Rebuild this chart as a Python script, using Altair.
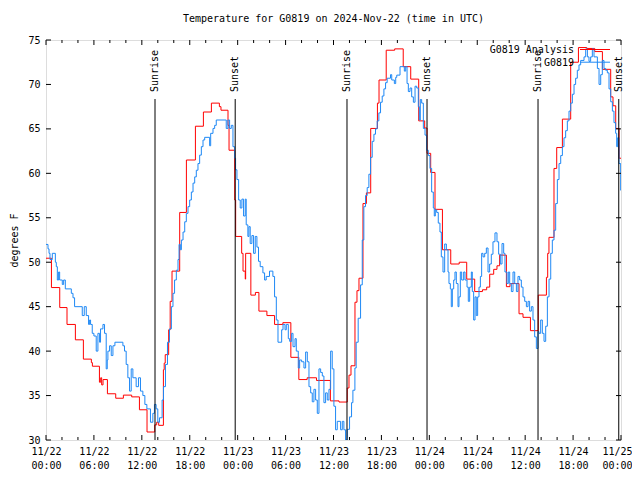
import json
import altair as alt
import pandas as pd

FONT = "DejaVu Sans Mono"

title_text = "Temperature for G0819 on 2024-Nov-22 (time in UTC)"
y_title = "degrees F"
series_names = ["G0819 Analysis", "G0819"]
series_colors = ["#ff0000", "#1e88f5"]

# Analysis (red) - step breakpoints: hours since 11/22 00:00 UTC, deg F
red_hours = [0, 0.68, 1.72, 2.63, 3.68, 4.68, 5.68, 5.81, 6.69, 6.85, 6.97, 7.14, 7.69, 8.73,
             9.69, 10.73, 11.7, 12.65, 13.61, 13.86, 14.11, 14.7, 14.8, 14.93, 15.36, 15.55,
             15.78, 16.74, 17.58, 18.71, 19.71, 20.71, 21.71, 21.91, 22.79, 22.92, 23.63, 23.75,
             24.5, 24.67, 24.95, 25.0, 25.65, 26.22, 26.66, 27.66, 28.62, 29.66, 30.66, 31.66,
             32.7, 33.87, 35.61, 36.69, 37.72, 37.94, 38.19, 38.69, 38.94, 39.19, 39.69, 40.12,
             40.66, 41.5, 41.7, 42.6, 43.66, 44.73, 45.67, 46.67, 47.42, 47.71, 48.17, 48.71,
             49.64, 50.68, 51.74, 52.68, 53.68, 54.65, 55.18, 55.56, 56.06, 56.47, 56.8, 57.65,
             58.1, 59.23, 59.73, 60.66, 61.64, 62.66, 62.82, 62.98, 63.61, 63.95, 64.66, 65.7,
             66.67, 67.71, 68.71, 69.67, 70.71, 71.0, 71.34, 71.76, 72.0]
red_temps = [50.45, 47.15, 44.9, 43.0, 41.27, 39.1, 38.7, 38.3, 36.5, 37.0, 36.2, 36.8, 35.2, 34.7,
             35.05, 34.85, 33.4, 30.9, 31.7, 32.0, 31.65, 37.9, 38.65, 39.6, 42.4, 45.6,
             49.0, 55.6, 61.5, 65.3, 66.9, 67.9, 67.5, 67.1, 65.4, 62.6, 57.0, 52.9,
             51.0, 49.0, 48.1, 51.0, 46.3, 46.6, 44.5, 44.0, 43.0, 43.2, 39.3, 36.8,
             37.0, 36.7, 34.4, 34.27, 35.85, 37.3, 38.35, 45.5, 46.8, 48.2, 56.6, 57.8,
             65.05, 67.9, 70.5, 73.85, 74.0, 72.0, 70.6, 65.9, 65.1, 62.25, 60.1, 55.95,
             51.4, 49.8, 50.0, 48.1, 46.7, 46.9, 47.2, 48.65, 49.2, 49.6, 50.8, 47.25,
             47.6, 44.2, 43.8, 42.3, 46.3, 48.3, 51.0, 52.8, 60.55, 62.9, 66.1, 72.5,
             74.15, 74.05, 73.7, 71.7, 68.6, 67.6, 65.05, 61.7, 61.7]

# Observations (blue) - step breakpoints
blue_hours = [0.0, 0.25, 0.38, 0.5, 0.79, 1.17, 1.29, 1.42, 1.58, 1.71, 2.04, 2.21, 2.42, 3.17,
              3.38, 3.58, 4.54, 4.79, 5.04, 5.33, 5.46, 5.58, 5.79, 6.0, 6.29, 6.5, 6.71, 6.83,
              7.13, 7.33, 7.54, 7.67, 7.75, 7.96, 8.17, 8.38, 8.63, 9.63, 9.83, 10.04, 10.25,
              10.46, 10.67, 10.88, 11.29, 11.58, 11.83, 12.13, 12.38, 12.63, 13.08, 13.38, 13.58,
              13.79, 14.0, 14.21, 14.54, 14.71, 14.96, 15.21, 15.46, 15.7, 15.9, 16.1, 16.32,
              16.53, 16.66, 16.82, 16.95, 17.16, 17.37, 17.57, 17.78, 17.99, 18.2, 18.41, 18.62,
              18.82, 19.03, 19.24, 19.45, 19.66, 19.87, 20.49, 20.62, 20.91, 21.12, 21.32, 22.57,
              22.78, 22.99, 23.2, 23.41, 23.62, 23.74, 23.91, 24.12, 24.32, 24.53, 24.74, 24.95,
              25.07, 25.28, 25.41, 25.57, 25.78, 25.99, 26.2, 26.41, 26.61, 26.82, 27.16, 27.37,
              27.57, 27.99, 28.41, 28.62, 28.84, 29.05, 29.51, 29.68, 29.93, 30.09, 30.34, 30.51,
              30.76, 30.93, 31.18, 31.34, 31.59, 31.76, 32.01, 32.3, 32.51, 32.72, 32.93, 33.14,
              33.34, 33.55, 33.76, 33.97, 34.18, 34.39, 34.6, 34.8, 35.01, 35.22, 35.43, 35.64,
              35.84, 36.05, 36.26, 36.47, 36.89, 37.1, 37.3, 37.51, 37.72, 38.01, 38.26, 38.43,
              38.68, 38.84, 39.09, 39.39, 39.6, 39.8, 40.01, 40.22, 40.43, 40.64, 40.85, 41.06,
              41.26, 41.47, 41.68, 41.89, 42.1, 42.31, 42.52, 42.72, 43.14, 43.29, 43.62, 43.79,
              43.92, 44.33, 44.87, 45.04, 45.21, 45.37, 45.58, 45.79, 46.0, 46.21, 46.42, 46.62,
              46.75, 46.87, 47.04, 47.25, 47.46, 47.67, 47.87, 48.08, 48.29, 48.5, 48.62, 48.75,
              48.92, 49.12, 49.33, 49.5, 49.71, 49.92, 50.13, 50.34, 50.46, 50.63, 50.75, 50.88,
              51.05, 51.21, 51.38, 51.59, 51.71, 51.88, 52.05, 52.3, 52.47, 52.72, 52.88, 53.05,
              53.26, 53.38, 53.55, 53.72, 53.88, 54.05, 54.22, 54.39, 54.55, 54.72, 54.93, 55.14,
              55.35, 55.55, 55.76, 55.97, 56.22, 56.47, 56.68, 56.89, 57.1, 57.31, 57.47, 57.72,
              57.89, 58.06, 58.27, 58.48, 58.69, 58.9, 59.1, 59.31, 59.52, 59.73, 59.94, 60.15,
              60.36, 60.56, 60.77, 60.98, 61.19, 61.4, 61.61, 61.73, 61.94, 62.15, 62.36, 62.57,
              62.78, 62.99, 63.2, 63.4, 63.61, 63.82, 64.03, 64.24, 64.45, 64.66, 64.86, 65.07,
              65.28, 65.49, 65.7, 65.91, 66.12, 66.32, 66.53, 66.74, 66.95, 67.37, 67.58, 67.79,
              67.99, 68.2, 68.41, 68.62, 69.04, 69.25, 69.46, 69.66, 69.87, 70.08, 70.29, 70.5,
              70.71, 70.92, 71.12, 71.33, 71.46, 71.58, 71.75, 71.96, 72.0]
blue_temps = [52.0, 51.5, 51.0, 50.3, 51.0, 50.0, 49.5, 48.0, 48.9, 48.0, 47.5, 48.0, 47.0, 46.5,
              46.0, 45.0, 44.0, 45.0, 44.0, 43.0, 43.5, 43.0, 42.0, 41.7, 40.0, 42.0, 41.0, 42.5,
              43.0, 42.0, 38.0, 39.0, 40.0, 40.6, 39.5, 40.6, 41.0, 40.6, 40.0, 38.5, 37.0,
              35.5, 38.0, 37.0, 36.0, 37.0, 35.5, 35.0, 34.0, 33.5, 32.0, 33.0, 34.0,
              33.5, 32.0, 32.5, 34.5, 36.0, 38.5, 41.0, 42.5, 45.0, 46.5, 48.0, 49.1,
              50.3, 52.0, 51.4, 52.5, 53.4, 54.55, 55.5, 56.25, 57.0, 57.9, 58.9, 59.6,
              60.35, 61.1, 62.05, 63.0, 63.75, 64.05, 63.1, 64.5, 65.05, 65.4, 66.0, 65.05,
              66.0, 65.05, 65.4, 63.0, 61.7, 60.4, 59.3, 57.0, 56.1, 57.1, 55.2, 57.1,
              54.2, 52.9, 54.0, 52.1, 53.0, 51.0, 52.9, 51.7, 50.1, 49.5, 48.8, 48.0,
              48.4, 49.0, 48.4, 46.1, 43.5, 41.0, 42.4, 43.0, 42.4, 43.0, 41.4, 41.1,
              42.0, 40.5, 41.4, 40.0, 38.1, 39.0, 38.8, 38.1, 39.9, 38.8, 36.0, 35.3,
              34.3, 35.7, 34.5, 33.0, 38.0, 37.6, 37.2, 34.2, 35.3, 34.5, 35.7, 40.0,
              38.0, 33.8, 31.15, 32.1, 31.15, 32.1, 31.15, 30.0, 31.2, 32.6, 34.2, 35.6,
              38.1, 41.0, 43.7, 47.45, 52.5, 56.25, 57.5, 58.4, 59.9, 61.8, 63.6, 64.4,
              65.0, 65.9, 66.8, 68.0, 68.7, 69.5, 70.2, 70.7, 71.1, 70.5, 70.1, 70.8,
              71.05, 72.0, 71.5, 72.0, 70.1, 69.2, 69.6, 68.6, 68.0, 69.8, 69.6, 67.5,
              66.0, 68.3, 67.9, 65.05, 64.3, 62.6, 62.0, 60.55, 57.9, 56.1, 55.2, 55.9,
              55.6, 54.4, 53.4, 50.6, 48.9, 52.05, 51.4, 48.9, 47.6, 47.0, 45.0, 47.0,
              48.0, 48.9, 47.6, 45.0, 46.1, 48.9, 48.0, 48.9, 48.0, 47.2, 45.6, 47.2,
              48.9, 46.7, 43.5, 46.1, 44.0, 46.1, 47.2, 48.4, 51.0, 50.6, 51.0, 51.6,
              48.9, 49.8, 50.9, 52.3, 53.3, 52.3, 50.9, 49.8, 52.1, 51.0, 48.9, 47.6,
              48.9, 47.6, 46.7, 48.9, 47.6, 46.7, 48.4, 48.0, 47.2, 46.1, 45.6, 45.0,
              45.6, 44.5, 45.0, 43.5, 41.6, 40.3, 42.2, 42.0, 43.5, 42.0, 41.1, 42.8,
              46.1, 48.1, 51.0, 52.5, 53.6, 56.6, 59.3, 61.1, 62.0, 63.0, 64.0, 64.8,
              65.9, 67.0, 67.9, 68.9, 70.0, 70.7, 71.6, 72.2, 72.7, 73.1, 74.0, 73.1,
              72.6, 73.1, 74.0, 73.1, 71.8, 70.0, 71.1, 72.7, 71.8, 71.6, 71.3, 69.5,
              68.05, 67.0, 65.7, 64.5, 63.0, 64.0, 61.1, 58.1, 58.1]

sun_events = ["Sunrise", "Sunset", "Sunrise", "Sunset", "Sunrise", "Sunset"]
sun_hours = [13.65, 23.69, 37.69, 47.71, 61.61, 71.72]

x_major = list(range(0, 73, 6))
x_minor = [h for h in range(0, 73, 2) if h % 6]
x_labels = ["11/22|00:00", "11/22|06:00", "11/22|12:00", "11/22|18:00",
            "11/23|00:00", "11/23|06:00", "11/23|12:00", "11/23|18:00",
            "11/24|00:00", "11/24|06:00", "11/24|12:00", "11/24|18:00", "11/25|00:00"]
y_ticks = [30, 35, 40, 45, 50, 55, 60, 65, 70, 75]

W, H = 575, 400
xs = alt.Scale(domain=[0, 72], nice=False, zero=False)
ys = alt.Scale(domain=[30, 75], nice=False, zero=False)

label_expr = "split(" + json.dumps(x_labels) + "[round(datum.value/6)], '|')"
last_x = x_major[-1]

x_axis = alt.Axis(values=x_major, labelExpr=label_expr, domain=False, ticks=False, grid=False,
                  labelFont=FONT, labelFontSize=10, labelColor="black", labelPadding=6,
                  labelLineHeight=14, labelFlush=False, labelOverlap=False, title=None,
                  labelAlign={"condition": {"test": f"datum.value >= {last_x}", "value": "right"},
                              "value": "center"},
                  labelOffset={"condition": {"test": f"datum.value >= {last_x}", "value": 11},
                               "value": 0})
y_axis = alt.Axis(values=y_ticks, domain=False, ticks=False, grid=False,
                  labelFont=FONT, labelFontSize=10, labelColor="black", labelPadding=6,
                  labelFlush=False, title=y_title, titleFont=FONT, titleFontSize=10,
                  titleFontWeight="normal", titleColor="black", titleX=-32, titleY=H / 2,
                  titleAngle=270, titleAlign="center", titleBaseline="middle")

X = alt.X("h:Q", scale=xs)
Y = alt.Y("t:Q", scale=ys)

red_df = pd.DataFrame({"h": red_hours, "t": red_temps})
blue_df = pd.DataFrame({"h": blue_hours, "t": blue_temps})

red = alt.Chart(red_df).mark_line(interpolate="step-after", color=series_colors[0],
                                  strokeWidth=1, clip=True).encode(
    x=alt.X("h:Q", scale=xs, axis=x_axis),
    y=alt.Y("t:Q", scale=ys, axis=y_axis, title=y_title),
)
blue = alt.Chart(blue_df).mark_line(interpolate="step-after", color=series_colors[1],
                                    strokeWidth=1, clip=True).encode(x=X, y=Y)

layers = [red, blue]

# inward ticks, gnuplot style
maj_df = pd.DataFrame({"h": x_major})
min_df = pd.DataFrame({"h": x_minor})
for df, ln in ((maj_df, 5), (min_df, 3)):
    for y0, y1 in ((H, H - ln), (0, ln)):
        layers.append(alt.Chart(df).mark_rule(color="black", strokeWidth=1).encode(
            x=X, y=alt.value(y0), y2=alt.value(y1)))
yt_df = pd.DataFrame({"t": y_ticks})
for x0, x1 in ((0, 5), (W, W - 5)):
    layers.append(alt.Chart(yt_df).mark_rule(color="black", strokeWidth=1).encode(
        y=Y, x=alt.value(x0), x2=alt.value(x1)))

sun_df = pd.DataFrame({"h": sun_hours, "event": sun_events})
layers.append(alt.Chart(sun_df).mark_rule(color="black", strokeWidth=1).encode(
    x=X, y=alt.value(59), y2=alt.value(H)))
layers.append(alt.Chart(sun_df).mark_text(angle=270, align="left", baseline="middle",
                                          font=FONT, fontSize=10, color="black").encode(
    x=X, y=alt.value(52), text="event:N"))

# key (top right, gnuplot style: label then line sample)
for i, (name, col) in enumerate(zip(series_names, series_colors)):
    ky = 10 + 12.7 * i
    kdf = pd.DataFrame({"name": [name]})
    layers.append(alt.Chart(kdf).mark_text(align="right", baseline="middle", font=FONT,
                                           fontSize=10, color="black").encode(
        x=alt.value(528), y=alt.value(ky), text="name:N"))
    layers.append(alt.Chart(kdf).mark_rule(color=col, strokeWidth=1).encode(
        x=alt.value(534), x2=alt.value(564), y=alt.value(ky - 0.5)))

chart = alt.layer(*layers).properties(
    width=W, height=H,
    title=alt.TitleParams(text=title_text, font=FONT, fontSize=10, fontWeight="normal",
                          color="black", anchor="middle", offset=11),
    autosize=alt.AutoSizeParams(type="none"),
    padding={"left": 38, "top": 32, "right": 11, "bottom": 30},
).configure_view(stroke="black", strokeWidth=1).configure(background="white")

chart.save("out.html", embed_options={"renderer": "svg", "actions": False})
